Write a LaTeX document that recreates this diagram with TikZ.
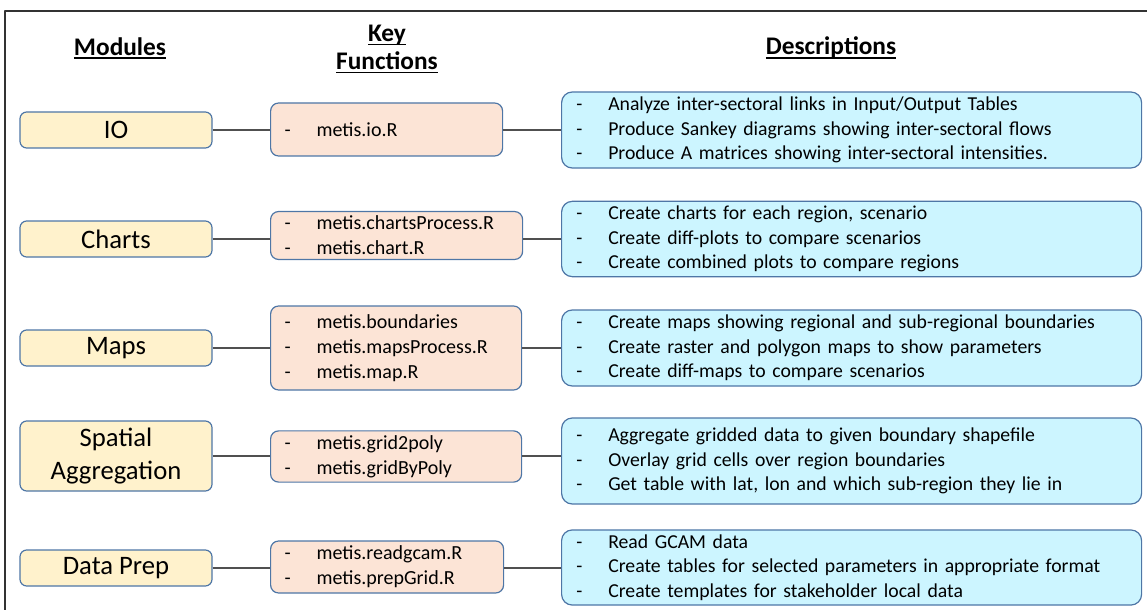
\documentclass[tikz,border=0pt]{standalone}
\usepackage{fontspec}
\setmainfont{Carlito}

\definecolor{modfill}{HTML}{FFF2CC}
\definecolor{funfill}{HTML}{FCE4D6}
\definecolor{descfill}{HTML}{CCF5FF}
\definecolor{edgeblue}{HTML}{4E76A6}
\definecolor{linkgray}{HTML}{505050}

% one dashed item of a list box
\newcommand\itm[1]{\makebox[24pt][l]{-}#1}
% heading with a fixed underline
\newcommand\headul[1]{\setbox0\hbox{#1}\rlap{\rule[-2.8pt]{\wd0}{1.1pt}}\box0}

\tikzset{
	head/.style={font=\fontsize{19}{21}\selectfont\bfseries, align=center},
	modbox/.style={draw=edgeblue, fill=modfill, line width=0.9pt, rounded corners=5pt,
		minimum width=144pt, minimum height=27pt, align=center, font=\fontsize{20}{24}\selectfont},
	funbox/.style={draw=edgeblue, fill=funfill, line width=0.9pt, rounded corners=6pt,
		anchor=west, inner xsep=10.5pt, align=left, font=\fontsize{15}{18.75}\selectfont},
	descbox/.style={draw=edgeblue, fill=descfill, line width=0.9pt, rounded corners=8pt,
		anchor=west, inner xsep=11pt, text width=413pt, align=left, font=\fontsize{14.8}{18.5}\selectfont},
	link/.style={draw=linkgray, line width=0.8pt}
}

\begin{document}
\begin{tikzpicture}[x=0.75pt, y=-0.75pt, line join=round]
	\useasboundingbox (0,0) rectangle (1147,610);
	\draw [line width=1.1pt, black!80] (5,620) |- (1160,11);

	% headings
	\node [head] (hmod) at (120,48) {\headul{Modules}};
	\node [head] (hfun) at (387,49) {\headul{Key}\\\headul{Functions}};
	\node [head] (hdesc) at (831,48) {\headul{Descriptions}};

	% modules
	\node [modbox] (m1) at (116,130) {IO};
	\node [modbox] (m2) at (116,239) {Charts};
	\node [modbox] (m3) at (116,348) {Maps};
	\node [modbox, minimum height=52.5pt, font=\fontsize{20}{24.5}\selectfont] (m4) at (116,456) {Spatial\\Aggregation};
	\node [modbox] (m5) at (116,568) {Data Prep};

	% key functions
	\node [funbox, text width=153pt, minimum height=39.75pt] (f1) at (270,129.5) {\itm{metis.io.R}};
	\node [funbox, text width=168pt, minimum height=31.5pt] (f2) at (270,235.5) {\itm{metis.chartsProcess.R}\\\itm{metis.chart.R}};
	\node [funbox, text width=167.25pt, minimum height=63pt] (f3) at (270,348) {\itm{metis.boundaries}\\\itm{metis.mapsProcess.R}\\\itm{metis.map.R}};
	\node [funbox, text width=167.25pt, minimum height=38.25pt] (f4) at (270,456.5) {\itm{metis.grid2poly}\\\itm{metis.gridByPoly}};
	\node [funbox, text width=153.75pt, minimum height=39pt] (f5) at (270,567) {\itm{metis.readgcam.R}\\\itm{metis.prepGrid.R}};

	% descriptions
	\node [descbox, minimum height=57pt] (d1) at (561,130) {\itm{Analyze inter-sectoral links in Input/Output Tables}\\
		\itm{Produce Sankey diagrams showing inter-sectoral flows}\\
		\itm{Produce A matrices showing inter-sectoral intensities.}};
	\node [descbox, minimum height=55.5pt] (d2) at (561,239) {\itm{Create charts for each region, scenario}\\
		\itm{Create diff-plots to compare scenarios}\\
		\itm{Create combined plots to compare regions}};
	\node [descbox, minimum height=57pt] (d3) at (561,348) {\itm{Create maps showing regional and sub-regional boundaries}\\
		\itm{Create raster and polygon maps to show parameters}\\
		\itm{Create diff-maps to compare scenarios}};
	\node [descbox, minimum height=64.5pt] (d4) at (561,461) {\itm{Aggregate gridded data to given boundary shapefile}\\
		\itm{Overlay grid cells over region boundaries}\\
		\itm{Get table with lat, lon and which sub-region they lie in}};
	\node [descbox, minimum height=56.25pt] (d5) at (561,567.5) {\itm{Read GCAM data}\\
		\itm{Create tables for selected parameters in appropriate format}\\
		\itm{Create templates for stakeholder local data}};

	% links, level with the module boxes
	\foreach \i in {1,...,5}
		\draw [link] (m\i.east) -- (m\i.east -| f\i.west) (m\i.east -| f\i.east) -- (m\i.east -| d\i.west);
\end{tikzpicture}
\end{document}
